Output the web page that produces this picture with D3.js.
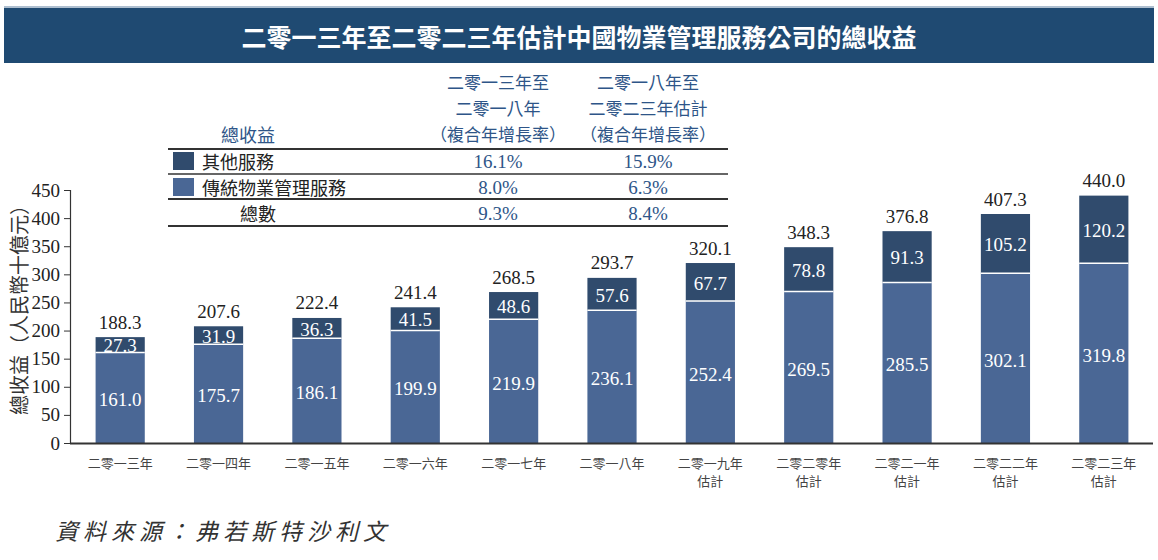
<!DOCTYPE html>
<html><head><meta charset="utf-8">
<script src="https://cdn.jsdelivr.net/npm/d3@7"></script>
<style>
body{margin:0;background:#fff;}
svg{display:block;}
.num{font-family:"Liberation Serif","Times New Roman",serif;}
.cjk{font-family:"Noto Sans CJK TC","Noto Sans CJK SC",sans-serif;}
</style></head>
<body>
<svg id="chart" width="1158" height="560"></svg>
<script>
const title = "二零一三年至二零二三年估計中國物業管理服務公司的總收益";
const categories = ["二零一三年","二零一四年","二零一五年","二零一六年","二零一七年","二零一八年","二零一九年\n估計","二零二零年\n估計","二零二一年\n估計","二零二二年\n估計","二零二三年\n估計"];
const traditional = [161.0,175.7,186.1,199.9,219.9,236.1,252.4,269.5,285.5,302.1,319.8];
const otherServices = [27.3,31.9,36.3,41.5,48.6,57.6,67.7,78.8,91.3,105.2,120.2];
const totals = [188.3,207.6,222.4,241.4,268.5,293.7,320.1,348.3,376.8,407.3,440.0];
const yTicks = [0,50,100,150,200,250,300,350,400,450];
const yTitle = "總收益（人民幣十億元）";
const tableHeader1 = ["二零一三年至","二零一八年","（複合年增長率）"];
const tableHeader2 = ["二零一八年至","二零二三年估計","（複合年增長率）"];
const tableRowLabels = ["其他服務","傳統物業管理服務","總數"];
const cagr1 = ["16.1%","8.0%","9.3%"];
const cagr2 = ["15.9%","6.3%","8.4%"];
const source = "資料來源：弗若斯特沙利文";

const colLower = "#4a6795", colUpper = "#304b6d", blueText = "#2e5588";

const svg = d3.select("#chart");

// Title banner
svg.append("rect").attr("x",4).attr("y",6).attr("width",1150).attr("height",57).attr("fill","#aebfd0");
svg.append("rect").attr("x",4).attr("y",8).attr("width",1150).attr("height",55).attr("fill","#1f4a72");
svg.append("text").attr("class","cjk").attr("x",579).attr("y",36).attr("text-anchor","middle")
  .attr("dominant-baseline","central").attr("fill","#fff").attr("font-size",25).attr("font-weight","bold").text(title);

// Scales
const x = d3.scaleBand().domain(categories).range([71,1153]).paddingInner(0.5).paddingOuter(0.25);
const y = d3.scaleLinear().domain([0,450]).range([443,190]);

// Y axis
const yAxis = svg.append("g").attr("transform","translate(70,0)")
  .call(d3.axisLeft(y).tickValues(yTicks).tickSize(6).tickPadding(4));
yAxis.select(".domain").attr("stroke","#333").attr("stroke-width",1.2);
yAxis.selectAll(".tick line").attr("stroke","#333");
yAxis.selectAll("text").attr("class","num").attr("font-size",19).attr("fill","#222");

// Y title
svg.append("text").attr("class","cjk").attr("transform","translate(18,305) rotate(-90)")
  .attr("text-anchor","middle").attr("dominant-baseline","central").attr("font-size",20).attr("fill","#333").text(yTitle);

// Bars
const g = svg.append("g");
categories.forEach((c,i)=>{
  const bx = x(c), bw = x.bandwidth();
  g.append("rect").attr("x",bx).attr("width",bw).attr("y",y(traditional[i])).attr("height",y(0)-y(traditional[i])).attr("fill",colLower);
  g.append("rect").attr("x",bx).attr("width",bw).attr("y",y(totals[i])).attr("height",y(traditional[i])-y(totals[i])).attr("fill",colUpper);
  g.append("line").attr("x1",bx).attr("x2",bx+bw).attr("y1",y(traditional[i])).attr("y2",y(traditional[i])).attr("stroke","#fff").attr("stroke-width",1.5);
  const cx = bx+bw/2;
  g.append("text").attr("class","num").attr("x",cx).attr("y",(y(0)+y(traditional[i]))/2+2).attr("text-anchor","middle")
    .attr("dominant-baseline","central").attr("fill","#fff").attr("font-size",19).text(traditional[i].toFixed(1));
  g.append("text").attr("class","num").attr("x",cx).attr("y",(y(traditional[i])+y(totals[i]))/2+1).attr("text-anchor","middle")
    .attr("dominant-baseline","central").attr("fill","#fff").attr("font-size",19).text(otherServices[i].toFixed(1));
  g.append("text").attr("class","num").attr("x",cx).attr("y",y(totals[i])-15).attr("text-anchor","middle")
    .attr("dominant-baseline","central").attr("fill","#222").attr("font-size",19).text(totals[i].toFixed(1));
});

// X axis
svg.append("line").attr("x1",70).attr("x2",1153).attr("y1",443.5).attr("y2",443.5).attr("stroke","#333").attr("stroke-width",2);
categories.forEach(c=>{
  const lines = c.split("\n");
  lines.forEach((l,k)=>{
    svg.append("text").attr("class","cjk").attr("x",x(c)+x.bandwidth()/2).attr("y",462+k*18)
      .attr("text-anchor","middle").attr("dominant-baseline","central").attr("font-size",13).attr("fill","#444").text(l);
  });
});

// Table
const t = svg.append("g");
const c1 = 498, c2 = 648;
tableHeader1.forEach((s,k)=> t.append("text").attr("class","cjk").attr("x",c1).attr("y",81+k*26).attr("text-anchor","middle").attr("dominant-baseline","central").attr("font-size",17).attr("fill",blueText).text(s));
tableHeader2.forEach((s,k)=> t.append("text").attr("class","cjk").attr("x",c2).attr("y",81+k*26).attr("text-anchor","middle").attr("dominant-baseline","central").attr("font-size",17).attr("fill",blueText).text(s));
t.append("text").attr("class","cjk").attr("x",248).attr("y",134).attr("text-anchor","middle").attr("dominant-baseline","central").attr("font-size",18).attr("fill",blueText).text("總收益");
[[149,2.2],[174,1.3],[199,2.2],[226,2.2]].forEach(([yy,w])=>{
  t.append("line").attr("x1",168).attr("x2",728).attr("y1",yy).attr("y2",yy).attr("stroke","#333").attr("stroke-width",w);
});
const rowY = [161,187,213];
t.append("rect").attr("x",173).attr("y",152).attr("width",21).attr("height",18).attr("fill",colUpper);
t.append("rect").attr("x",173).attr("y",178).attr("width",21).attr("height",18).attr("fill",colLower);
t.append("text").attr("class","cjk").attr("x",202).attr("y",rowY[0]).attr("dominant-baseline","central").attr("font-size",18).attr("fill","#222").text(tableRowLabels[0]);
t.append("text").attr("class","cjk").attr("x",202).attr("y",rowY[1]).attr("dominant-baseline","central").attr("font-size",18).attr("fill","#222").text(tableRowLabels[1]);
t.append("text").attr("class","cjk").attr("x",258).attr("y",rowY[2]).attr("text-anchor","middle").attr("dominant-baseline","central").attr("font-size",18).attr("fill","#222").text(tableRowLabels[2]);
rowY.forEach((yy,k)=>{
  t.append("text").attr("class","num").attr("x",c1).attr("y",yy).attr("text-anchor","middle").attr("dominant-baseline","central").attr("font-size",19).attr("fill",blueText).text(cagr1[k]);
  t.append("text").attr("class","num").attr("x",c2).attr("y",yy).attr("text-anchor","middle").attr("dominant-baseline","central").attr("font-size",19).attr("fill",blueText).text(cagr2[k]);
});

// Source
svg.append("text").attr("class","cjk").attr("x",55).attr("y",530).attr("dominant-baseline","central")
  .attr("font-size",23).attr("font-style","italic").attr("letter-spacing",5).attr("fill","#333").text(source);
</script>
</body></html>
